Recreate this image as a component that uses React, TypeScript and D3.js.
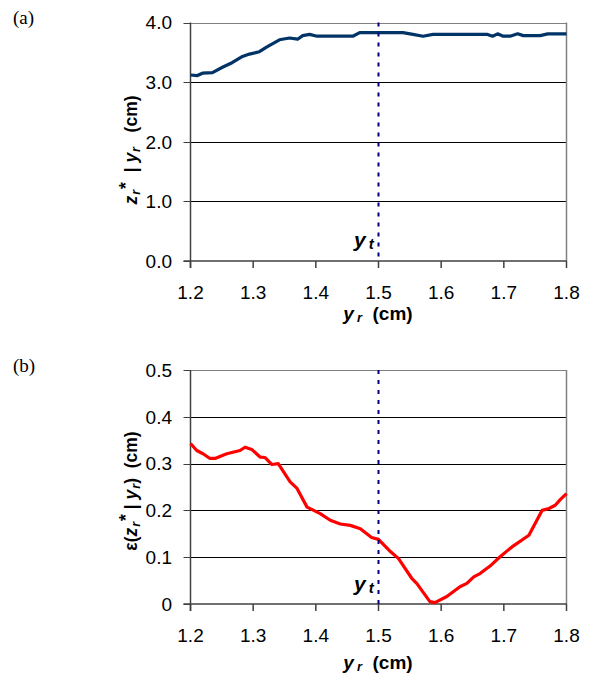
import React from "react";
import * as d3 from "d3";

const xTicks = [1.2, 1.3, 1.4, 1.5, 1.6, 1.7, 1.8];
const yTicksA = [0, 1, 2, 3, 4];
const yTicksB = [0, 0.1, 0.2, 0.3, 0.4, 0.5];
const yt = 1.5;

const xA = [1.2, 1.211, 1.219, 1.235, 1.251, 1.267, 1.283, 1.294, 1.31, 1.322, 1.342, 1.358, 1.371, 1.379, 1.39, 1.402, 1.459, 1.47, 1.539, 1.555, 1.571, 1.587, 1.674, 1.682, 1.69, 1.699, 1.71, 1.722, 1.731, 1.758, 1.77, 1.8];
const zA = [3.12, 3.11, 3.15, 3.16, 3.25, 3.33, 3.43, 3.47, 3.51, 3.59, 3.71, 3.74, 3.72, 3.78, 3.8, 3.77, 3.77, 3.83, 3.83, 3.8, 3.77, 3.8, 3.8, 3.77, 3.81, 3.77, 3.77, 3.81, 3.78, 3.78, 3.81, 3.81];

const xB = [1.2, 1.21, 1.22, 1.231, 1.239, 1.258, 1.279, 1.287, 1.298, 1.311, 1.319, 1.33, 1.34, 1.359, 1.37, 1.386, 1.407, 1.423, 1.439, 1.455, 1.471, 1.489, 1.5, 1.519, 1.532, 1.553, 1.561, 1.582, 1.59, 1.609, 1.63, 1.641, 1.652, 1.662, 1.678, 1.694, 1.713, 1.74, 1.761, 1.772, 1.782, 1.79, 1.8];
const eB = [0.343, 0.328, 0.321, 0.311, 0.311, 0.321, 0.328, 0.335, 0.33, 0.314, 0.313, 0.298, 0.3, 0.261, 0.247, 0.207, 0.193, 0.179, 0.171, 0.168, 0.161, 0.142, 0.138, 0.112, 0.097, 0.055, 0.044, 0.005, 0.003, 0.016, 0.037, 0.044, 0.058, 0.065, 0.081, 0.101, 0.122, 0.147, 0.2, 0.204, 0.211, 0.223, 0.236];

const FONT = "'Liberation Sans', Arial, sans-serif";
const SERIF = "'Liberation Serif', 'Times New Roman', serif";

const L = 190.5;
const R = 566.5;

type PanelProps = {
  top: number;
  bottom: number;
  yDomain: [number, number];
  yTicks: number[];
  fmt: (v: number) => string;
  xs: number[];
  ys: number[];
  color: string;
  yTitle: React.ReactNode;
  titleY: number;
  ytLabelY: number;
  xLabelY: number;
  xTitleY: number;
};

function Panel(p: PanelProps) {
  const x = d3.scaleLinear().domain([1.2, 1.8]).range([L, R]);
  const y = d3.scaleLinear().domain(p.yDomain).range([p.bottom, p.top]);
  const pts = p.xs.map((v, i) => [v, p.ys[i]] as [number, number]);
  const line = d3
    .line<[number, number]>()
    .x((d) => x(d[0]))
    .y((d) => y(d[1]));
  const maxT = p.yTicks[p.yTicks.length - 1];
  return (
    <g>
      {p.yTicks.map((t) => (
        <g key={t}>
          {t !== p.yTicks[0] && (
            <line
              x1={L}
              x2={R}
              y1={Math.round(y(t)) + 0.5}
              y2={Math.round(y(t)) + 0.5}
              stroke={t === maxT ? "#808080" : "#000"}
              strokeWidth={1}
            />
          )}
          <line x1={L - 7} x2={L} y1={Math.round(y(t)) + 0.5} y2={Math.round(y(t)) + 0.5} stroke="#404040" strokeWidth={1} />
          <text x={172} y={y(t)} dy="0.36em" textAnchor="end" fontFamily={FONT} fontSize={19} fill="#000">
            {p.fmt(t)}
          </text>
        </g>
      ))}
      <line x1={R} x2={R} y1={p.top} y2={p.bottom} stroke="#808080" strokeWidth={1.5} />
      <line x1={L} x2={L} y1={p.top} y2={p.bottom + 7} stroke="#404040" strokeWidth={1.5} />
      <line x1={L - 7} x2={R} y1={p.bottom} y2={p.bottom} stroke="#404040" strokeWidth={1.5} />
      {xTicks.map((t) => (
        <g key={t}>
          <line x1={x(t)} x2={x(t)} y1={p.bottom} y2={p.bottom + 7} stroke="#404040" strokeWidth={1.5} />
          <text x={x(t)} y={p.xLabelY} textAnchor="middle" fontFamily={FONT} fontSize={19} fill="#000">
            {t.toFixed(1)}
          </text>
        </g>
      ))}
      <path d={line(pts) || ""} fill="none" stroke={p.color} strokeWidth={3.2} strokeLinejoin="round" />
      <line x1={x(yt)} x2={x(yt)} y1={p.top} y2={p.bottom} stroke="#000080" strokeWidth={2} strokeDasharray="4,6" />
      <text x={354} y={p.ytLabelY} fontFamily={FONT} fontSize={21} fontWeight="bold" fontStyle="italic" fill="#000">
        y<tspan fontSize={15} dx={3} dy={2}>t</tspan>
      </text>
      <text x={378} y={p.xTitleY} textAnchor="middle" fontFamily={FONT} fontSize={19} fontWeight="bold" fill="#000">
        <tspan fontStyle="italic">y</tspan>
        <tspan fontStyle="italic" fontSize={13} dx={3} dy={2}>r</tspan>
        <tspan dy={-2}>{"\u00a0\u00a0(cm)"}</tspan>
      </text>
      <g transform={`translate(137,${p.titleY}) rotate(-90)`}>
        <text x={0} y={0} textAnchor="middle" fontFamily={FONT} fontSize={17.5} fontWeight="bold" fill="#000">
          {p.yTitle}
        </text>
      </g>
    </g>
  );
}

export default function App() {
  return (
    <svg width={591} height={677} style={{ display: "block", position: "absolute", left: 0, top: 0 }}>
      <rect width={591} height={677} fill="#fff" />
      <text x={13} y={24} fontFamily={SERIF} fontSize={19} fill="#000">(a)</text>
      <text x={13} y={372} fontFamily={SERIF} fontSize={19} fill="#000">(b)</text>
      <Panel
        top={22.5}
        bottom={261}
        yDomain={[0, 4]}
        yTicks={yTicksA}
        fmt={(v) => v.toFixed(1)}
        xs={xA}
        ys={zA}
        color="#003366"
        titleY={150}
        ytLabelY={247}
        xLabelY={299}
        xTitleY={320}
        yTitle={
          <>
            <tspan fontStyle="italic">z</tspan>
            <tspan fontStyle="italic" fontSize={12.5} dx={1} dy={3}>r</tspan>
            <tspan dx={1} dy={-8}>*</tspan>
            <tspan dy={5}>{"\u00a0\u00a0|\u00a0"}</tspan>
            <tspan fontStyle="italic">y</tspan>
            <tspan fontStyle="italic" fontSize={12.5} dx={1} dy={3}>r</tspan>
            <tspan dy={-3}>{"\u00a0\u00a0\u00a0(cm)"}</tspan>
          </>
        }
      />
      <Panel
        top={370}
        bottom={604}
        yDomain={[0, 0.5]}
        yTicks={yTicksB}
        fmt={(v) => (v === 0 ? "0" : v.toFixed(1))}
        xs={xB}
        ys={eB}
        color="#ff0000"
        titleY={491}
        ytLabelY={591}
        xLabelY={642}
        xTitleY={669}
        yTitle={
          <>
            <tspan>{"\u03b5("}</tspan>
            <tspan fontStyle="italic">z</tspan>
            <tspan fontStyle="italic" fontSize={12.5} dx={1} dy={3}>r</tspan>
            <tspan dx={1} dy={-8}>*</tspan>
            <tspan dy={5}>{"\u00a0|\u00a0"}</tspan>
            <tspan fontStyle="italic">y</tspan>
            <tspan fontStyle="italic" fontSize={12.5} dx={1} dy={3}>r</tspan>
            <tspan dy={-3}>{")\u00a0\u00a0(cm)"}</tspan>
          </>
        }
      />
    </svg>
  );
}
